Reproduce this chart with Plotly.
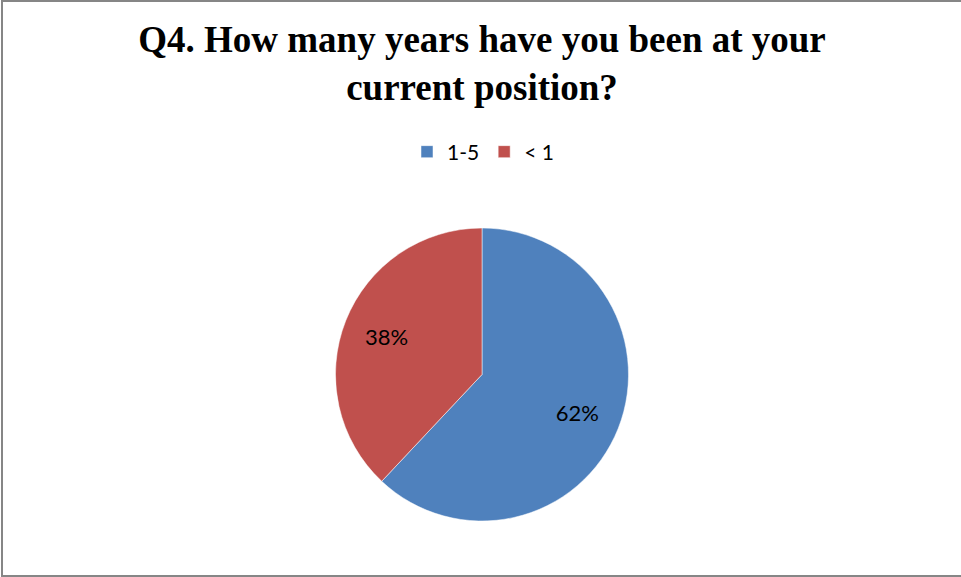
import plotly.graph_objects as go

labels = ["1-5", "< 1"]
values = [62, 38]
colors = ["#4F81BD", "#C0504D"]
title_text = "<b>Q4. How many years have you been at your<br>current position?</b>"

W, H = 961, 577
pie_domain = dict(x=[335 / W, 629 / W], y=[(H - 521) / H, (H - 228) / H])

fig = go.Figure()
# filled pie
fig.add_trace(go.Pie(
    labels=labels,
    values=values,
    marker=dict(colors=colors, line=dict(color="white", width=0.5)),
    sort=False,
    direction="clockwise",
    rotation=0,
    textinfo="none",
    domain=pie_domain,
    hoverinfo="label+percent",
))
# transparent ring carrying the data labels (places them further out like Excel)
fig.add_trace(go.Pie(
    labels=labels,
    values=values,
    hole=0.4,
    marker=dict(colors=["rgba(0,0,0,0)"] * len(labels), line=dict(width=0)),
    sort=False,
    direction="clockwise",
    rotation=0,
    textinfo="percent",
    texttemplate="%{percent:.0%}",
    textposition="inside",
    insidetextorientation="horizontal",
    textfont=dict(family="Lato, Open Sans, sans-serif", size=22, color="black"),
    domain=pie_domain,
    showlegend=False,
    hoverinfo="skip",
))

fig.update_layout(
    width=W, height=H,
    margin=dict(l=0, r=0, t=0, b=0),
    paper_bgcolor="white",
    plot_bgcolor="white",
    title=dict(
        text=title_text,
        font=dict(family="Liberation Serif, Times New Roman, serif", size=37, color="black"),
        x=482 / W, xanchor="center",
        y=1 - 52 / H, yanchor="middle",
    ),
    legend=dict(
        orientation="h",
        x=483 / W, xanchor="center",
        y=1 - 152 / H, yanchor="middle",
        font=dict(family="Lato, Open Sans, sans-serif", size=21, color="black"),
        itemwidth=30,
        traceorder="normal",
    ),
    shapes=[dict(
        type="rect", xref="paper", yref="paper",
        x0=2 / W, x1=1.01, y0=1 / H, y1=1 - 1 / H,
        line=dict(color="#868686", width=2),
    )],
)

fig.write_html(
    "out.html",
    config={"displayModeBar": False},
    post_script="document.body.style.margin='0';document.body.style.overflow='hidden';",
)
